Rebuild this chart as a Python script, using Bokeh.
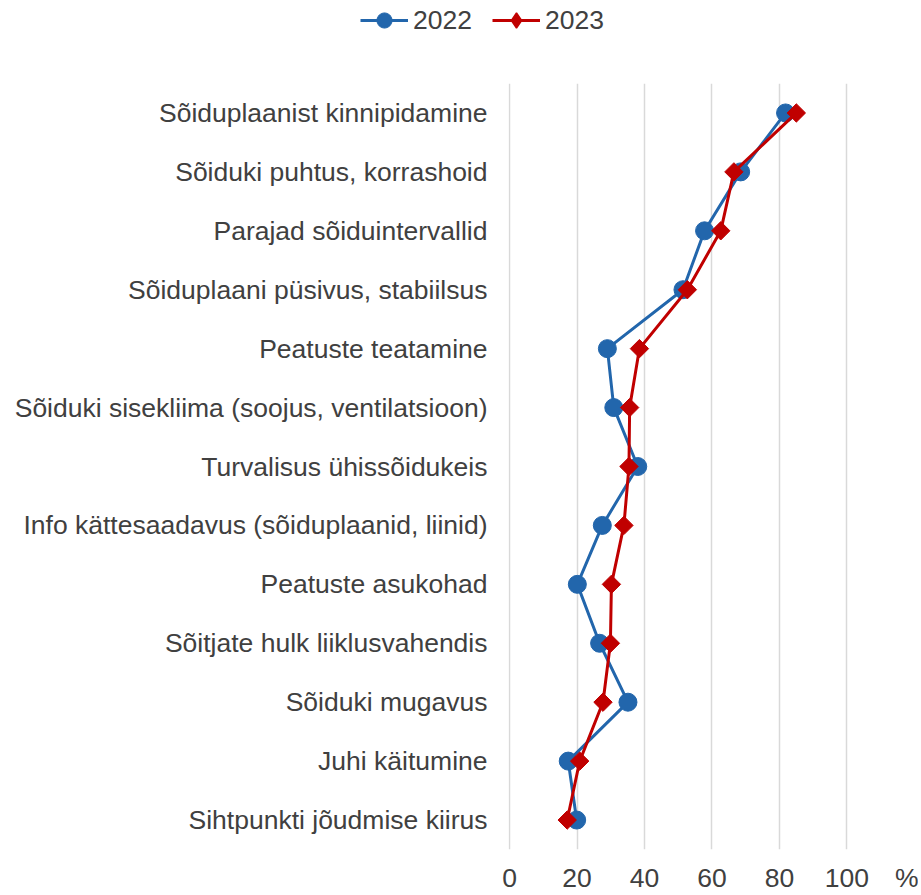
from bokeh.plotting import figure
from bokeh.layouts import column
from bokeh.models import FactorRange, Range1d, FixedTicker, Legend, LegendItem
from bokeh.embed import file_html
from bokeh.resources import INLINE
import numpy as np

categories = [
    "Sõiduplaanist kinnipidamine",
    "Sõiduki puhtus, korrashoid",
    "Parajad sõiduintervallid",
    "Sõiduplaani püsivus, stabiilsus",
    "Peatuste teatamine",
    "Sõiduki sisekliima (soojus, ventilatsioon)",
    "Turvalisus ühissõidukeis",
    "Info kättesaadavus (sõiduplaanid, liinid)",
    "Peatuste asukohad",
    "Sõitjate hulk liiklusvahendis",
    "Sõiduki mugavus",
    "Juhi käitumine",
    "Sihtpunkti jõudmise kiirus",
]
values_2022 = [81.8, 68.5, 57.8, 51.4, 29.0, 30.9, 38.0, 27.5, 20.1, 26.7, 35.1, 17.4, 19.9]
values_2023 = [85.0, 66.5, 62.6, 52.7, 38.5, 35.6, 35.4, 33.9, 30.2, 29.9, 27.7, 20.8, 17.1]
x_ticks = [0, 20, 40, 60, 80, 100]
unit_label = "%"
series_names = ["2022", "2023"]

BLUE = "#2266AC"
RED = "#C00000"
TEXT = "#404040"
FONT = "Liberation Sans"
W = 918
TOP_H = 70
MAIN_H = 825

# ---------- legend strip (series drawn outside its visible x range; only the legend shows) ----------
pl = figure(width=W, height=TOP_H, x_range=Range1d(1000, 1001),
            y_range=FactorRange(factors=list(reversed(categories))),
            x_axis_type=None, y_axis_type=None, output_backend="svg", toolbar_location=None,
            min_border=0)
pl.frame_align = False
pl.outline_line_color = None
pl.grid.visible = False
ll1 = pl.line(values_2022, categories, line_color=BLUE, line_width=3)
ls1 = pl.scatter(values_2022, categories, marker="circle", fill_color=BLUE, line_color=BLUE)
ll2 = pl.line(values_2023, categories, line_color=RED, line_width=3)
ls2 = pl.scatter(values_2023, categories, marker="diamond", fill_color=RED, line_color=RED, line_width=1.5)
legend = Legend(
    items=[LegendItem(label=series_names[0], renderers=[ll1, ls1]),
           LegendItem(label=series_names[1], renderers=[ll2, ls2])],
    orientation="horizontal",
    location=(360, 31),
    glyph_width=48, glyph_height=38,
    label_standoff=5, spacing=20,
    padding=0, margin=0,
    border_line_color=None, background_fill_alpha=0,
    label_text_font=FONT, label_text_font_size="26.5px", label_text_color=TEXT,
)
pl.add_layout(legend, "center")

# ---------- main chart ----------
p = figure(
    width=W, height=MAIN_H,
    y_range=FactorRange(factors=list(reversed(categories))),
    x_range=Range1d(-0.3, 121.2),
    output_backend="svg", toolbar_location=None,
    min_border_left=508, min_border_right=0, min_border_top=13, min_border_bottom=45,
)
p.frame_align = False
p.outline_line_color = None
p.background_fill_color = "white"
p.border_fill_color = "white"

p.line(values_2022, categories, line_color=BLUE, line_width=3)
p.scatter(values_2022, categories, marker="circle", size=18, fill_color=BLUE, line_color=BLUE)
p.line(values_2023, categories, line_color=RED, line_width=3)
p.scatter(values_2023, categories, marker="square", angle=np.pi / 4, size=13, fill_color=RED, line_color=RED)

p.xaxis.ticker = FixedTicker(ticks=x_ticks + [118])
p.xaxis.major_label_overrides = {118: unit_label}
p.xaxis.axis_line_color = None
p.xaxis.major_tick_line_color = None
p.xaxis.minor_tick_line_color = None
p.xaxis.major_label_text_font = FONT
p.xaxis.major_label_text_font_size = "26.5px"
p.xaxis.major_label_text_color = TEXT
p.xaxis.major_label_standoff = 7

p.yaxis.axis_line_color = None
p.yaxis.major_tick_line_color = None
p.yaxis.minor_tick_line_color = None
p.yaxis.major_label_text_font = FONT
p.yaxis.major_label_text_font_size = "26.5px"
p.yaxis.major_label_text_color = TEXT
p.yaxis.major_label_standoff = 15

p.xgrid.ticker = FixedTicker(ticks=x_ticks)
p.xgrid.grid_line_color = "#D9D9D9"
p.xgrid.grid_line_width = 1.5
p.ygrid.grid_line_color = None

layout = column(pl, p, spacing=0)
open("out.html", "w").write(file_html(layout, INLINE))
